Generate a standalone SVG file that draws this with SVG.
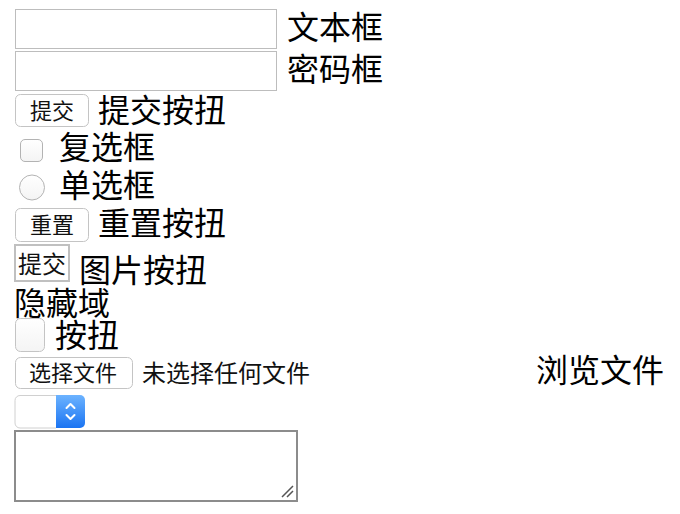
<svg xmlns="http://www.w3.org/2000/svg" width="680" height="514" viewBox="0 0 680 514">
<defs>
<style>
.lbl{font-family:"Noto Sans CJK SC","Liberation Sans",sans-serif;font-size:32px;fill:#000}
.btxt{font-family:"Noto Sans CJK SC","Liberation Sans",sans-serif;font-size:22px;fill:#111}
.stxt{font-family:"Noto Sans CJK SC","Liberation Sans",sans-serif;font-size:24px;fill:#111}
.inp{fill:#fff;stroke:#bdbdbd;stroke-width:1}
.btn{fill:#fff;stroke:#c4c4c4;stroke-width:1}
</style>
<linearGradient id="blue" x1="0" y1="0" x2="0" y2="1">
<stop offset="0" stop-color="#6cb3ff"/>
<stop offset="1" stop-color="#1b74f2"/>
</linearGradient>
<linearGradient id="ctl" x1="0" y1="0" x2="0" y2="1">
<stop offset="0" stop-color="#ffffff"/>
<stop offset="1" stop-color="#f4f4f4"/>
</linearGradient>
</defs>
<rect width="680" height="514" fill="#fff"/>

<g id="text-input">
<rect class="inp" x="15.5" y="9.5" width="261" height="39"/>
<text class="lbl" x="287" y="39">文本框</text>
</g>

<g id="password-input">
<rect class="inp" x="15.5" y="51.5" width="261" height="39"/>
<text class="lbl" x="287" y="81">密码框</text>
</g>

<g id="submit-button">
<rect class="btn" x="15.5" y="94.5" width="73" height="32" rx="5" fill="url(#ctl)"/>
<text class="btxt" x="30" y="119">提交</text>
<text class="lbl" x="98" y="122">提交按扭</text>
</g>

<g id="checkbox">
<rect x="20.5" y="139.5" width="22" height="22" rx="4.5" fill="url(#ctl)" stroke="#b3b3b3"/>
<text class="lbl" x="59" y="159">复选框</text>
</g>

<g id="radio">
<circle cx="32" cy="187.5" r="12.5" fill="url(#ctl)" stroke="#b3b3b3"/>
<text class="lbl" x="59" y="197">单选框</text>
</g>

<g id="reset-button">
<rect class="btn" x="15.5" y="208.5" width="73" height="33" rx="5" fill="url(#ctl)"/>
<text class="btxt" x="30" y="233">重置</text>
<text class="lbl" x="98" y="235">重置按扭</text>
</g>

<g id="image-button">
<rect x="15" y="245" width="54" height="36" fill="#fff" stroke="#c0c0c0" stroke-width="2"/>
<text class="stxt" x="18" y="273">提交</text>
<text class="lbl" x="79" y="282">图片按扭</text>
</g>

<g id="hidden-field">
<text class="lbl" x="14" y="315">隐藏域</text>
</g>

<g id="button">
<rect x="15.5" y="318.5" width="29" height="33" rx="5" fill="url(#ctl)" stroke="#c4c4c4"/>
<text class="lbl" x="55" y="347">按扭</text>
</g>

<g id="file-input">
<rect class="btn" x="15.5" y="357.5" width="117" height="31" rx="5" fill="url(#ctl)"/>
<text class="btxt" x="29" y="381">选择文件</text>
<text class="stxt" x="142" y="382">未选择任何文件</text>
<text class="lbl" x="536" y="382">浏览文件</text>
</g>

<g id="select">
<path d="M56,395.5 H20 a5,5 0 0 0 -5,5 V423 a5,5 0 0 0 5,5 H56" fill="#fff" stroke="#d0d0d0"/>
<path d="M56,395 H80 a5,5 0 0 1 5,5 V423 a5,5 0 0 1 -5,5 H56 Z" fill="url(#blue)"/>
<path d="M66.5,408 L70.5,404 L74.5,408 M66.5,415 L70.5,419 L74.5,415" fill="none" stroke="#fff" stroke-width="2" stroke-linecap="round" stroke-linejoin="round"/>
</g>

<g id="textarea">
<rect x="15" y="431" width="282" height="70" fill="#fff" stroke="#8c8c8c" stroke-width="2"/>
<path d="M282,497 L293,486 M287,497 L293,491" fill="none" stroke="#555" stroke-width="1.5"/>
</g>
</svg>
